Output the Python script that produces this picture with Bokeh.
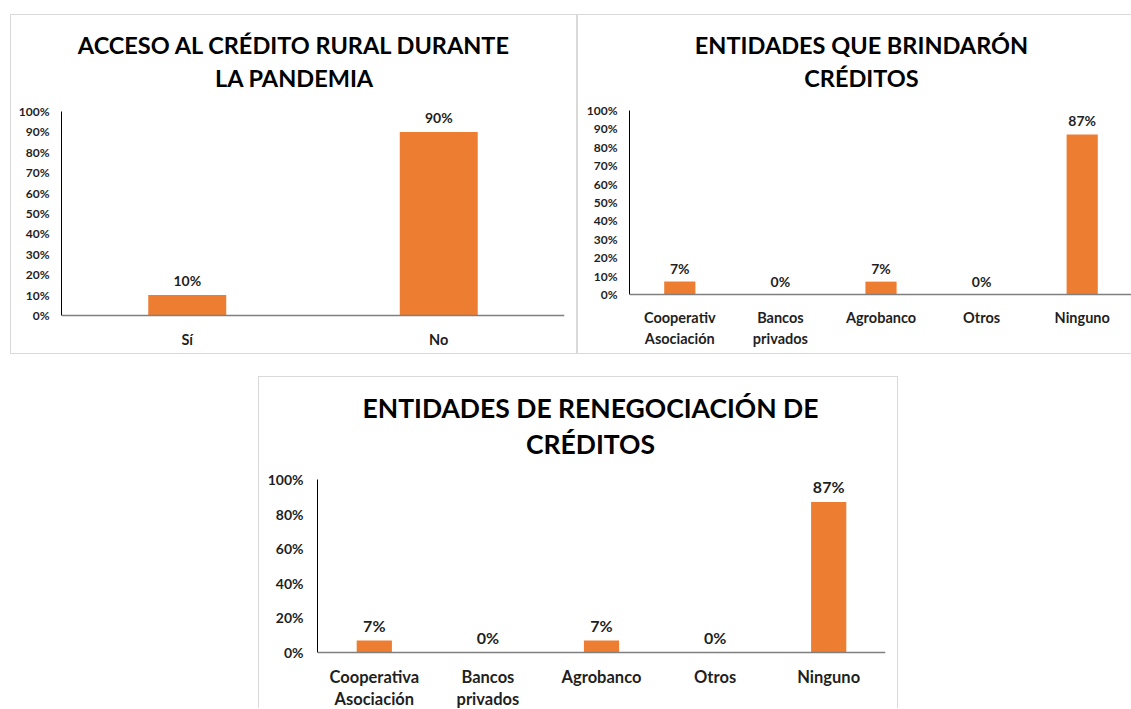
from bokeh.plotting import figure
from bokeh.models import Range1d, FixedTicker, NumeralTickFormatter, Span, Spacer
from bokeh.layouts import column, row
from bokeh.core.properties import value
from bokeh.embed import file_html
from bokeh.resources import INLINE

# ---------------- data ----------------
title1 = ["ACCESO AL CRÉDITO RURAL DURANTE", "LA PANDEMIA"]
cats1 = ["Sí", "No"]
vals1 = [0.10, 0.90]
labels1 = ["10%", "90%"]

title2 = ["ENTIDADES QUE BRINDARÓN", "CRÉDITOS"]
cats2 = ["Cooperativ\nAsociación", "Bancos\nprivados", "Agrobanco", "Otros", "Ninguno"]
vals2 = [0.07, 0.0, 0.07, 0.0, 0.87]
labels2 = ["7%", "0%", "7%", "0%", "87%"]

title3 = ["ENTIDADES DE RENEGOCIACIÓN DE", "CRÉDITOS"]
cats3 = ["Cooperativa\nAsociación", "Bancos\nprivados", "Agrobanco", "Otros", "Ninguno"]
vals3 = [0.07, 0.0, 0.07, 0.0, 0.87]
labels3 = ["7%", "0%", "7%", "0%", "87%"]

ticks_fine = [0, 0.1, 0.2, 0.3, 0.4, 0.5, 0.6, 0.7, 0.8, 0.9, 1.0]
ticks_coarse = [0, 0.2, 0.4, 0.6, 0.8, 1.0]

ORANGE = "#ED7D31"
FONT = "Lato"
BORDER = "1px solid #d9d9d9"
TXT = "#1f1f1f"


def panel(cfg, titles, cats, vals, labels, ticks):
    W, H = cfg["W"], cfg["H"]
    ox, oy = cfg["ox"], cfg["oy"]
    fl, fr = cfg["frame_left"], cfg["frame_right"]
    y0p, y1p = cfg["y0"] - oy, cfg["y1"] - oy
    k = y0p - y1p
    ydat = lambda c: (y0p - c) / k
    n = len(cats)
    pxu = (fr - fl) / n
    xdat = lambda px: (px - fl) / pxu

    p = figure(width=W, height=H, output_backend="svg", toolbar_location=None,
               x_axis_location=None, y_axis_location="left",
               x_range=Range1d(0, n), y_range=Range1d(ydat(H), ydat(0)),
               min_border_left=fl - ox, min_border_right=ox + W - fr,
               min_border_top=0, min_border_bottom=0,
               styles=cfg["styles"])
    p.outline_line_color = None
    p.xgrid.visible = False
    p.ygrid.visible = False
    p.background_fill_color = "white"

    ax = p.yaxis[0]
    ax.ticker = FixedTicker(ticks=ticks)
    ax.formatter = NumeralTickFormatter(format="0%")
    ax.bounds = (0, 1)
    ax.axis_line_color = "black"
    ax.axis_line_width = 1
    ax.major_tick_out = 0
    ax.major_tick_in = 0
    ax.minor_tick_out = 0
    ax.minor_tick_in = 0
    ax.major_label_standoff = cfg["standoff"]
    ax.major_label_text_font = FONT
    ax.major_label_text_font_style = "bold"
    ax.major_label_text_font_size = cfg["tick_fs"]
    ax.major_label_text_color = TXT

    xs = [i + 0.5 for i in range(n)]
    p.vbar(x=xs, top=vals, bottom=0, width=cfg["bar_w"], fill_color=ORANGE,
           line_color=None)
    p.add_layout(Span(location=0, dimension="width", line_color="#7f7f7f",
                      line_width=1.5))

    # data labels
    p.text(x=xs, y=[v + cfg["lab_gap"] / k for v in vals], text=labels,
           text_align="center", text_baseline="middle",
           text_font=value(FONT), text_font_style="bold",
           text_font_size=cfg["lab_fs"], text_color=TXT)

    # category labels (one or two lines)
    l1 = [c.split("\n")[0] for c in cats]
    l2 = [c.split("\n")[1] if "\n" in c else "" for c in cats]
    for txt, py in ((l1, cfg["cat_y"][0]), (l2, cfg["cat_y"][1])):
        p.text(x=xs, y=[ydat(py - oy)] * n, text=txt,
               text_align="center", text_baseline="middle",
               text_font=value(FONT), text_font_style="bold",
               text_font_size=cfg["cat_fs"], text_color=TXT)

    # title lines
    for t, py in zip(titles, cfg["title_y"]):
        p.text(x=[xdat(cfg["title_x"])], y=[ydat(py - oy)], text=[t],
               text_align="center", text_baseline="middle",
               text_font=value(FONT), text_font_style="bold",
               text_font_size=cfg["title_fs"], text_color="black")
    return p


cfg1 = dict(W=567, H=340, ox=10, oy=14, frame_left=60, frame_right=563,
            y0=314, y1=110, standoff=12, tick_fs="12px", bar_w=0.31,
            lab_gap=14.5, lab_fs="14px", cat_y=(338, 360), cat_fs="14.5px",
            title_y=(43, 76), title_x=293, title_fs="23.5px",
            styles={"border": BORDER})
cfg2 = dict(W=554, H=340, ox=577, oy=14, frame_left=628, frame_right=1131,
            y0=293, y1=109, standoff=12, tick_fs="12px", bar_w=0.31,
            lab_gap=13.5, lab_fs="14px", cat_y=(316, 337), cat_fs="14.5px",
            title_y=(43, 76), title_x=860, title_fs="23.5px",
            styles={"border-left": BORDER, "border-top": BORDER,
                    "border-bottom": BORDER})
cfg3 = dict(W=640, H=332, ox=258, oy=376, frame_left=316, frame_right=884,
            y0=651, y1=478, standoff=14, tick_fs="14px", bar_w=0.31,
            lab_gap=15, lab_fs="16px", cat_y=(675, 697), cat_fs="16.5px",
            title_y=(406, 442), title_x=589, title_fs="26.5px",
            styles={"border-left": BORDER, "border-top": BORDER,
                    "border-right": BORDER})

p1 = panel(cfg1, title1, cats1, vals1, labels1, ticks_fine)
p2 = panel(cfg2, title2, cats2, vals2, labels2, ticks_fine)
p3 = panel(cfg3, title3, cats3, vals3, labels3, ticks_coarse)

layout = column(
    Spacer(height=14),
    row(Spacer(width=10), p1, p2),
    Spacer(height=22),
    row(Spacer(width=258), p3),
)

open("out.html", "w").write(file_html(layout, INLINE))
